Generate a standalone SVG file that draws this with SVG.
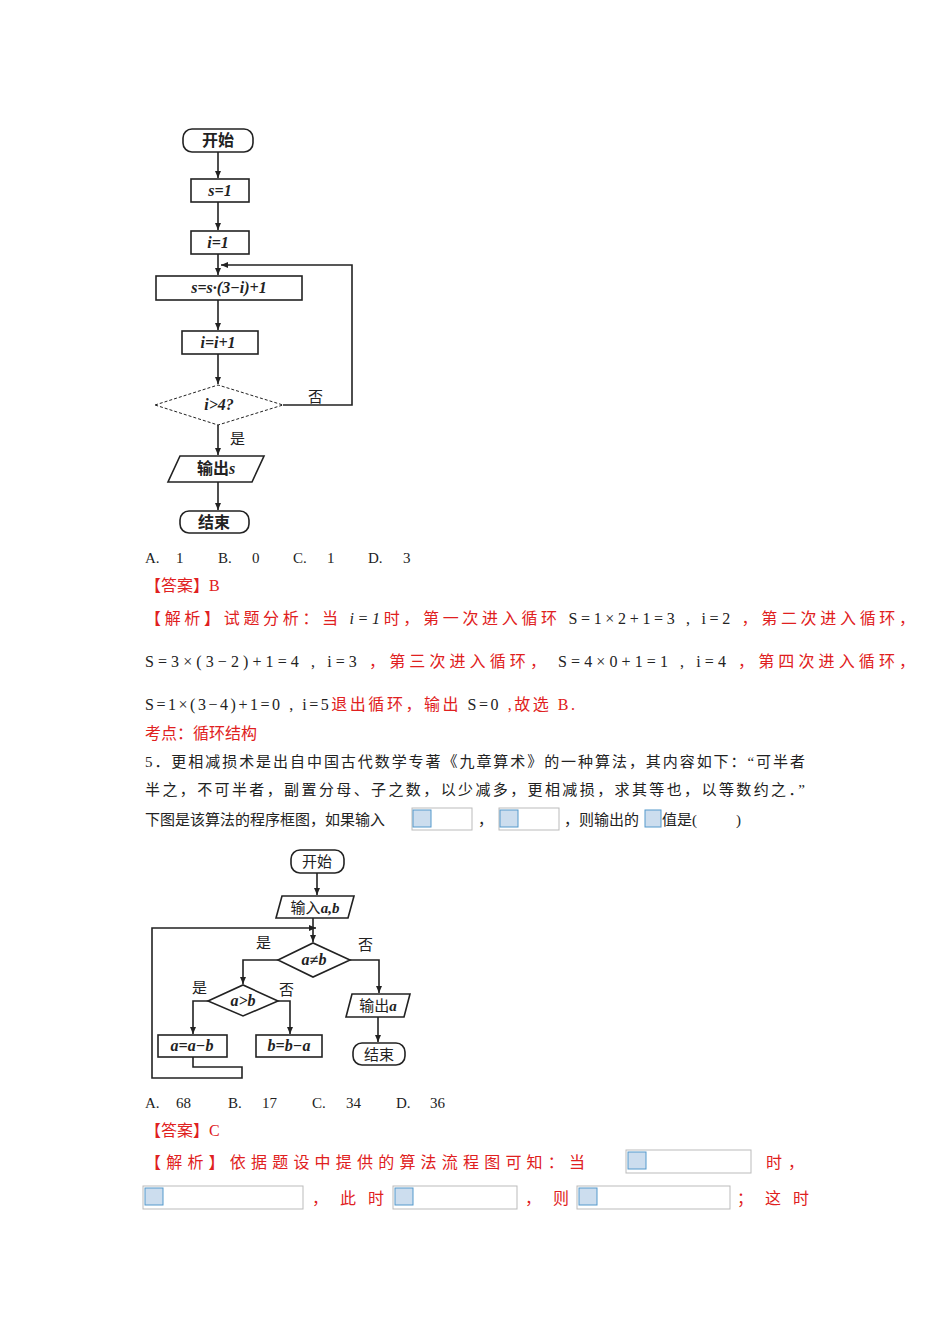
<svg xmlns="http://www.w3.org/2000/svg" width="950" height="1344" viewBox="0 0 950 1344">
<style>
.s{fill:none;stroke:#222;stroke-width:1.6}
.t{font-family:"Liberation Serif","Noto Sans CJK SC",serif;font-size:15px;fill:#222}
.r{font-family:"Liberation Serif","Noto Sans CJK SC",serif;font-size:16px;fill:#e02020}
.b{font-family:"Liberation Serif","Noto Sans CJK SC",serif;font-size:16px;font-weight:bold;fill:#222}
.m{font-family:"Liberation Serif",serif;font-size:16px;font-style:italic;fill:#222}
.ph{fill:#fff;stroke:#bbb;stroke-width:1}
.ic{fill:#cde;stroke:#59c;stroke-width:1}
</style>
<defs><marker id="a" markerWidth="8" markerHeight="8" refX="7" refY="4" orient="auto" markerUnits="userSpaceOnUse"><path d="M0,1 L7,4 L0,7z" fill="#222"/></marker></defs>
<rect width="950" height="1344" fill="#fff"/>
<g id="chart1">
<g id="n1"><rect class="s" x="183" y="129" width="70" height="23" rx="9"/><text class="b" x="218" y="146" text-anchor="middle">开始</text></g>
<g id="n2"><rect class="s" x="191" y="179" width="58" height="23"/><text class="b" x="220" y="196" text-anchor="middle" font-style="italic">s=1</text></g>
<g id="n3"><rect class="s" x="191" y="231" width="58" height="23"/><text class="b" x="218" y="248" text-anchor="middle" font-style="italic">i=1</text></g>
<g id="n4"><rect class="s" x="156" y="276" width="146" height="24"/><text class="b" x="229" y="293" text-anchor="middle" font-style="italic">s=s·(3−i)+1</text></g>
<g id="n5"><rect class="s" x="182" y="331" width="76" height="23"/><text class="b" x="218" y="348" text-anchor="middle" font-style="italic">i=i+1</text></g>
<g id="n6"><polygon points="155,405 218,385 283,405 218,425" fill="none" stroke="#222" stroke-width="1" stroke-dasharray="3,2"/><text class="b" x="219" y="410" text-anchor="middle" font-style="italic">i&gt;4?</text></g>
<g id="n7"><polygon class="s" points="180,456 264,456 252,482 168,482"/><text class="b" x="216" y="474" text-anchor="middle">输出<tspan font-style="italic">s</tspan></text></g>
<g id="n8"><rect class="s" x="180" y="511" width="69" height="22" rx="9"/><text class="b" x="214" y="528" text-anchor="middle">结束</text></g>
<g id="edges1" class="s" marker-end="url(#a)">
<path d="M218,152V178"/><path d="M218,202V230"/><path d="M218,254V275"/><path d="M218,300V330"/><path d="M218,354V384"/><path d="M218,425V455"/><path d="M218,482V510"/>
<path d="M283,405H352V265H221"/>
</g>
<text class="t" x="308" y="402">否</text><text class="t" x="230" y="444">是</text>
</g>
<text class="t" y="563"><tspan x="145">A.</tspan><tspan x="176">1</tspan><tspan x="218">B.</tspan><tspan x="252">0</tspan><tspan x="293">C.</tspan><tspan x="327">1</tspan><tspan x="368">D.</tspan><tspan x="403">3</tspan></text>
<text class="r" x="145" y="591">【答案】B</text>
<text class="r" x="145" y="624" textLength="770" lengthAdjust="spacing">【解析】试题分析：当<tspan class="m" fill="#222"> i=1</tspan>时，第一次进入循环<tspan fill="#222" font-family="Liberation Serif"> S=1×2+1=3 , i=2 </tspan>，第二次进入循环，</text>
<text class="r" x="145" y="667" textLength="770" lengthAdjust="spacing"><tspan fill="#222">S=3×(3−2)+1=4 , i=3 </tspan>，第三次进入循环， <tspan fill="#222">S=4×0+1=1 , i=4 </tspan>，第四次进入循环，</text>
<text class="r" x="145" y="710" textLength="430" lengthAdjust="spacing"><tspan fill="#222">S=1×(3−4)+1=0 , i=5</tspan>退出循环，输出<tspan fill="#222"> S=0 </tspan>,故选 B.</text>
<text class="r" x="145" y="739" font-size="15">考点：循环结构</text>
<text class="t" x="145" y="767" textLength="660" lengthAdjust="spacing">5．更相减损术是出自中国古代数学专著《九章算术》的一种算法，其内容如下：“可半者</text>
<text class="t" x="145" y="795" textLength="660" lengthAdjust="spacing">半之，不可半者，副置分母、子之数，以少减多，更相减损，求其等也，以等数约之．”</text>
<text class="t" x="145" y="825">下图是该算法的程序框图，如果输入</text>
<rect class="ph" x="412" y="808" width="60" height="22"/><rect class="ic" x="413" y="810" width="18" height="17"/>
<text class="t" x="478" y="825">，</text>
<rect class="ph" x="499" y="808" width="60" height="22"/><rect class="ic" x="500" y="810" width="18" height="17"/>
<text class="t" x="564" y="825">，则输出的</text>
<rect class="ic" x="645" y="810" width="16" height="17"/>
<text class="t" y="825"><tspan x="662">值是(</tspan><tspan x="736">)</tspan></text>
<g id="chart2">
<g id="m1"><rect class="s" x="291" y="850" width="53" height="23" rx="9"/><text class="t" x="317" y="867" text-anchor="middle" font-size="16">开始</text></g>
<g id="m2"><polygon class="s" points="282,896 354,896 348,918 276,918"/><text class="t" x="315" y="913" text-anchor="middle" font-size="16">输入<tspan font-style="italic" font-weight="bold">a,b</tspan></text></g>
<g id="m3"><polygon class="s" points="278,960 313,943 350,960 313,977"/><text class="m" x="314" y="965" text-anchor="middle" font-weight="bold">a≠b</text></g>
<g id="m4"><polygon class="s" points="208,1001 243,985 278,1001 243,1016"/><text class="m" x="243" y="1006" text-anchor="middle" font-weight="bold">a&gt;b</text></g>
<g id="m5"><rect class="s" x="158" y="1035" width="69" height="22"/><text class="m" x="192" y="1051" text-anchor="middle" font-weight="bold">a=a−b</text></g>
<g id="m6"><rect class="s" x="256" y="1035" width="66" height="22"/><text class="m" x="289" y="1051" text-anchor="middle" font-weight="bold">b=b−a</text></g>
<g id="m7"><polygon class="s" points="352,994 410,994 404,1017 346,1017"/><text class="t" x="378" y="1011" text-anchor="middle" font-size="16">输出<tspan font-style="italic" font-weight="bold">a</tspan></text></g>
<g id="m8"><rect class="s" x="353" y="1043" width="52" height="22" rx="9"/><text class="t" x="379" y="1060" text-anchor="middle" font-size="16">结束</text></g>
<g id="edges2" class="s">
<path d="M317,873V895" marker-end="url(#a)"/><path d="M313,918V942" marker-end="url(#a)"/>
<path d="M193,1057V1067H242V1078H152V928H316" marker-end="url(#a)"/>
<path d="M278,960H243V984" marker-end="url(#a)"/>
<path d="M208,1001H193V1034" marker-end="url(#a)"/>
<path d="M278,1001H290V1034" marker-end="url(#a)"/>
<path d="M350,960H379V993" marker-end="url(#a)"/>
<path d="M378,1017V1042" marker-end="url(#a)"/>
</g>
<text class="t" x="256" y="948" font-size="16">是</text><text class="t" x="358" y="950" font-size="16">否</text>
<text class="t" x="192" y="993" font-size="16">是</text><text class="t" x="279" y="995" font-size="16">否</text>
</g>
<text class="t" y="1108"><tspan x="145">A.</tspan><tspan x="176">68</tspan><tspan x="228">B.</tspan><tspan x="262">17</tspan><tspan x="312">C.</tspan><tspan x="346">34</tspan><tspan x="396">D.</tspan><tspan x="430">36</tspan></text>
<text class="r" x="145" y="1136">【答案】C</text>
<text class="r" x="145" y="1168" letter-spacing="5.2">【解析】依据题设中提供的算法流程图可知：当</text>
<rect class="ph" x="626" y="1150" width="125" height="23"/><rect class="ic" x="628" y="1152" width="18" height="17"/>
<text class="r" x="766" y="1168" letter-spacing="6">时，</text>
<rect class="ph" x="143" y="1186" width="160" height="23"/><rect class="ic" x="145" y="1188" width="18" height="17"/>
<text class="r" x="312" y="1204" letter-spacing="12">，此时</text>
<rect class="ph" x="393" y="1186" width="124" height="23"/><rect class="ic" x="395" y="1188" width="18" height="17"/>
<text class="r" x="525" y="1204" letter-spacing="12">，则</text>
<rect class="ph" x="577" y="1186" width="153" height="23"/><rect class="ic" x="579" y="1188" width="18" height="17"/>
<text class="r" x="737" y="1204" letter-spacing="12">；这时</text>
</svg>
